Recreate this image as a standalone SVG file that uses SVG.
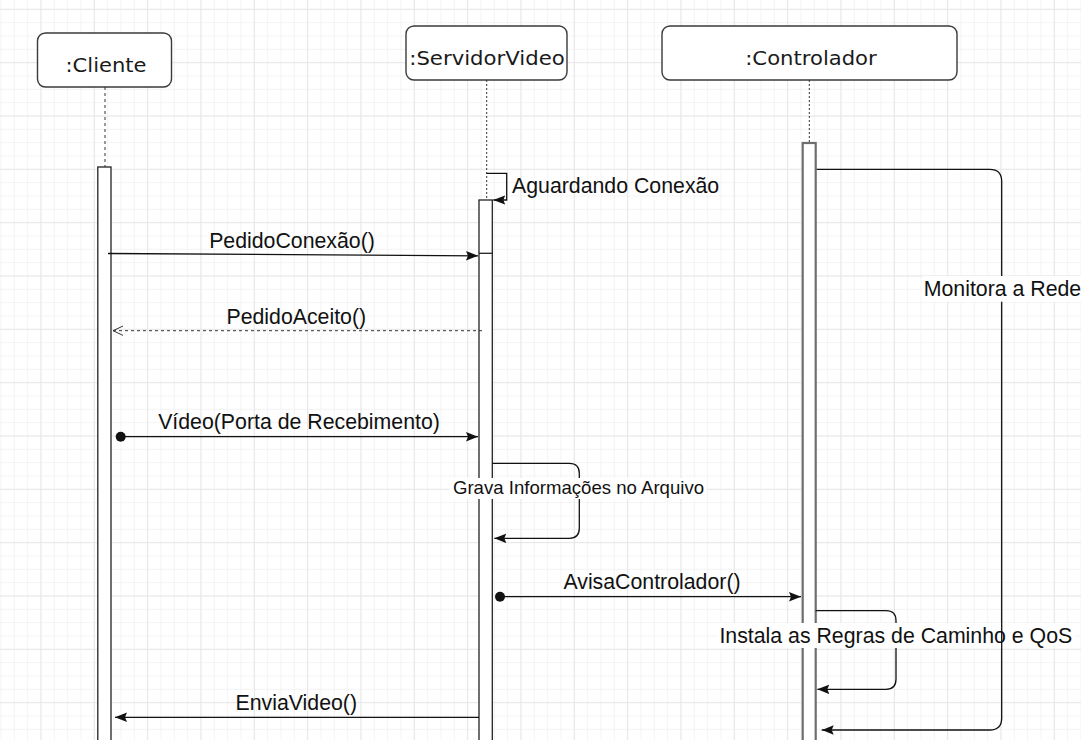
<svg xmlns="http://www.w3.org/2000/svg" width="1081" height="740" viewBox="0 0 1081 740">
  <defs>
    <!-- background grid: minor cells 13.33px, major cells 53.33px -->
    <pattern id="gridMinor" patternUnits="userSpaceOnUse" x="0.5" y="8.83" width="13.3333" height="13.3333">
      <rect x="0" y="0" width="13.3333" height="1" fill="#f3f3f3"/>
      <rect x="0" y="0" width="1" height="13.3333" fill="#f3f3f3"/>
    </pattern>
    <pattern id="gridMajor" patternUnits="userSpaceOnUse" x="40.5" y="8.83" width="53.3333" height="53.3333">
      <rect x="0" y="0" width="53.3333" height="1" fill="#e7e7e7"/>
      <rect x="0" y="0" width="1" height="53.3333" fill="#e7e7e7"/>
    </pattern>
    <marker id="arrowFilled" markerUnits="userSpaceOnUse" viewBox="0 0 12 12" refX="12" refY="6" markerWidth="12" markerHeight="12" orient="auto">
      <path d="M0,1.3 L12,6 L0,10.7 L2,6 Z" fill="#111"/>
    </marker>
    <marker id="arrowOpen" markerUnits="userSpaceOnUse" viewBox="0 0 12 12" refX="11" refY="6" markerWidth="12" markerHeight="12" orient="auto">
      <path d="M1,1.3 L11,6 L1,10.7" fill="none" stroke="#333" stroke-width="1"/>
    </marker>
    <marker id="dotStart" markerUnits="userSpaceOnUse" viewBox="0 0 12 12" refX="6" refY="6" markerWidth="12" markerHeight="12" orient="auto">
      <circle cx="6" cy="6" r="5" fill="#111"/>
    </marker>
    <style>
      .head { fill: #ffffff; stroke: #3a3a3a; stroke-width: 1.4; }
      .headText { font-family: "DejaVu Sans", "Liberation Sans", sans-serif; font-size: 20px; fill: #1a1a1a; text-anchor: middle; }
      .lifeline { stroke: #333; stroke-width: 1; fill: none; }
      .act { fill: #ffffff; stroke: #222; stroke-width: 1.3; }
      .actGray { fill: #ffffff; stroke: #6e6e6e; stroke-width: 2.2; }
      .msg { stroke: #111; stroke-width: 1.3; fill: none; }
      .reply { stroke: #333; stroke-width: 1; fill: none; stroke-dasharray: 3 3; }
      .label { font-family: "Liberation Sans", Arial, sans-serif; font-size: 21.3px; fill: #111; }
      .mid { text-anchor: middle; }
      .labelBg { fill: #ffffff; }
    </style>
  </defs>

  <!-- canvas and grid -->
  <rect x="0" y="0" width="1081" height="740" fill="#ffffff"/>
  <rect x="0" y="0" width="1081" height="740" fill="url(#gridMinor)"/>
  <rect x="0" y="0" width="1081" height="740" fill="url(#gridMajor)"/>

  <!-- participant :Cliente -->
  <g id="cliente">
    <rect class="head" x="37.5" y="33" width="134" height="54" rx="8" ry="8"/>
    <text class="headText" x="106" y="71.5" textLength="81" lengthAdjust="spacingAndGlyphs">:Cliente</text>
    <line class="lifeline" x1="105" y1="87" x2="105" y2="167" stroke-dasharray="3 3"/>
    <rect class="act" x="97.8" y="167" width="13.2" height="590"/>
  </g>

  <!-- participant :ServidorVideo -->
  <g id="servidorVideo">
    <rect class="head" x="406" y="26" width="161" height="54" rx="8" ry="8"/>
    <text class="headText" x="487" y="65" textLength="155.5" lengthAdjust="spacingAndGlyphs">:ServidorVideo</text>
    <line class="lifeline" x1="486.7" y1="80" x2="486.7" y2="200" stroke-dasharray="2 2"/>
    <rect class="act" x="479" y="200" width="13.3" height="560"/>
    <line class="act" x1="479" y1="253.3" x2="492.3" y2="253.3"/>
  </g>

  <!-- participant :Controlador -->
  <g id="controlador">
    <rect class="head" x="662" y="26" width="295" height="54" rx="8" ry="8"/>
    <text class="headText" x="811" y="65" textLength="131.5" lengthAdjust="spacingAndGlyphs">:Controlador</text>
    <line class="lifeline" x1="809.3" y1="80" x2="809.3" y2="143" stroke="#777" stroke-dasharray="2 2"/>
    <rect class="actGray" x="802.7" y="143" width="13" height="620"/>
  </g>

  <!-- messages -->
  <g id="connectors">
    <!-- self call: waiting for connection -->
    <path class="msg" d="M486.7,173.3 H506.7 V200 H493.3" marker-end="url(#arrowFilled)"/>
    <text class="label" x="512" y="193">Aguardando Conexão</text>

    <!-- connection request -->
    <line class="msg" x1="108" y1="253.5" x2="478" y2="255.8" marker-end="url(#arrowFilled)"/>
    <text class="label mid" x="292" y="248">PedidoConexão()</text>

    <!-- accepted reply -->
    <line class="reply" x1="482" y1="330.7" x2="113" y2="330.7" marker-end="url(#arrowOpen)"/>
    <text class="label mid" x="296.3" y="324">PedidoAceito()</text>

    <!-- video stream with receiving port -->
    <line class="msg" x1="120.7" y1="436.7" x2="478" y2="436.7" marker-start="url(#dotStart)" marker-end="url(#arrowFilled)"/>
    <text class="label mid" x="299" y="428.5">Vídeo(Porta de Recebimento)</text>

    <!-- self call: store information -->
    <path class="msg" d="M492.3,463.3 H569.3 Q579.3,463.3 579.3,473.3 V528.3 Q579.3,538.3 569.3,538.3 H494.3" marker-end="url(#arrowFilled)"/>
    <rect class="labelBg" x="450" y="478" width="257" height="21"/>
    <text class="label mid" x="578.5" y="494" style="font-size:18.6px">Grava Informações no Arquivo</text>

    <!-- notify controller -->
    <line class="msg" x1="500" y1="596.7" x2="801" y2="596.7" marker-start="url(#dotStart)" marker-end="url(#arrowFilled)"/>
    <text class="label mid" x="652" y="589">AvisaControlador()</text>

    <!-- self call: install path and QoS rules -->
    <path class="msg" d="M815.7,610.7 H886 Q896,610.7 896,620.7 V679.3 Q896,689.3 886,689.3 H817.3" marker-end="url(#arrowFilled)"/>
    <rect class="labelBg" x="718" y="623" width="356" height="25"/>
    <text class="label mid" x="895.8" y="643.3">Instala as Regras de Caminho e QoS</text>

    <!-- continuous network monitoring loop -->
    <path class="msg" d="M816.7,169.3 H989.7 Q1001.7,169.3 1001.7,181.3 V718 Q1001.7,730 989.7,730 H821.7" marker-end="url(#arrowFilled)"/>
    <rect class="labelBg" x="922.7" y="276" width="160" height="25.7"/>
    <text class="label mid" x="1002.5" y="296">Monitora a Rede</text>

    <!-- video sent to client -->
    <line class="msg" x1="479" y1="717.3" x2="115" y2="717.3" marker-end="url(#arrowFilled)"/>
    <text class="label mid" x="296.3" y="710">EnviaVideo()</text>
  </g>
</svg>
